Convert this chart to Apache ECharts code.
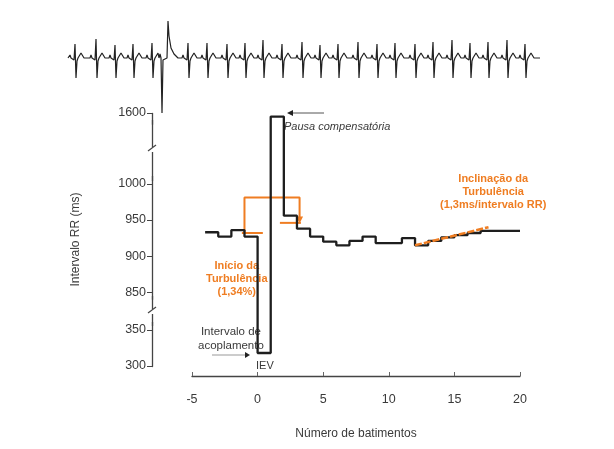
<!DOCTYPE html>
<html><head><meta charset="utf-8">
<script src="https://cdn.jsdelivr.net/npm/echarts@6/dist/echarts.min.js"></script>
<style>html,body{margin:0;padding:0;background:#fff}#c{width:614px;height:449px}</style>
</head><body><div id="c"></div>
<script>
// ---- data ----
const beats = [-4,-3,-2,-1,0,1,2,3,4,5,6,7,8,9,10,11,12,13,14,15,16,17,18,19,20];
const rrIntervals = [933,927,936,927,318,1595,956,938,927,920,915,921,927,918,918,925,915,921,926,929,932,935,935,935,935];
const yTickValues = [300,350,850,900,950,1000,1600];
const xTickValues = [-5,0,5,10,15,20];
const onsetBracketX = [-1, -1, 3.2, 3.2];
const onsetBracketY = [932, 981, 981, 950];
const preMeanX = [-1.2, 0.4];  const preMeanY = [932, 932];
const postMeanX = [1.7, 3.3];  const postMeanY = [946, 946];
const slopeX = [12, 17.6];     const slopeY = [915, 940];
// ECG strip (R-peak positions along the strip and R heights)
const ecgBeatPos = [7,28,47,65,84,120,139,159,177,195,214,234,252,270,290,309,327,347,365,384,402,420,439,457];
const ecgBeatAmp = [14,19,13,14,15,15,15,14,15,18,14,16,13,14,16,14,15,14,16,18,15,16,18,14];
const ecgPvcPos = 94;
const ecgNormalShape = [[-6,0],[-5,3],[-4,0],[-2,0],[-1,-2],[0,1],[1,-20],[2,-3],[3,0],[5,1],[6,5],[8,4],[9,0]];
const ecgPvcShape = [[-3,0],[-1,0],[0,-55],[1,-2],[5,0],[6,37],[7,22],[9,10],[12,4],[16,0]];
const ecgLength = 472;

// ---- build series data ----
const rrData = beats.map((b,i)=>[b, rrIntervals[i]]);
const zip = (xs,ys)=>xs.map((x,i)=>[x,ys[i]]);
const bracketData = zip(onsetBracketX, onsetBracketY).map((p,i,a)=> i===a.length-1 ? {value:p, symbol:'triangle', symbolSize:[7,7], symbolRotate:180} : {value:p, symbol:'none'});

let ecg = [[0,0]];
ecgBeatPos.forEach((p,i)=>{
  ecgNormalShape.forEach(([dx,dy])=>{
    ecg.push([p+dx, dx===0 ? ecgBeatAmp[i] : dy]);
  });
});
ecgPvcShape.forEach(([dx,dy])=>ecg.push([ecgPvcPos+dx, dy]));
ecg.push([ecgLength,0]);
ecg.sort((a,b)=>a[0]-b[0]);

const ORANGE = '#ef7d22';
const TXT = '#3a3a3a';
const FONT = 'Liberation Sans, Arial, sans-serif';

const chart = echarts.init(document.getElementById('c'), null, {renderer:'canvas'});
chart.setOption({
  animation:false,
  backgroundColor:'#fff',
  textStyle:{fontFamily:FONT},
  grid:[
    {left:192, right:94, top:113, bottom:83, containLabel:false},
    {left:68, right:74, top:15, height:100}
  ],
  xAxis:[{
    type:'value', gridIndex:0, min:-5, max:20, interval:5, offset:10,
    axisLine:{show:true, onZero:false, lineStyle:{color:'#444', width:1.3}},
    axisTick:{show:true, inside:true, length:4, lineStyle:{color:'#666'}},
    axisLabel:{color:TXT, fontSize:12.5, margin:17, fontFamily:FONT},
    splitLine:{show:false},
    name:'Número de batimentos', nameLocation:'middle', nameGap:52,
    nameTextStyle:{color:TXT, fontSize:12, fontFamily:FONT}
  },{
    type:'value', gridIndex:1, min:0, max:ecgLength, show:false
  }],
  yAxis:[{
    type:'value', gridIndex:0, min:300, max:1600, offset:40,
    breaks:[{start:360, end:840, gap:32},{start:1010, end:1585, gap:73}],
    breakArea:{show:true, expandOnClick:false, itemStyle:{color:'rgba(0,0,0,0)', borderColor:'rgba(0,0,0,0)', borderWidth:0}},
    axisLine:{show:true, onZero:false, breakLine:true, lineStyle:{color:'#444', width:1.3}},
    axisTick:{show:true, customValues:yTickValues, length:5, lineStyle:{color:'#444'}},
    axisLabel:{customValues:yTickValues, formatter:v=>String(v), color:TXT, fontSize:12.5, margin:6, fontFamily:FONT},
    splitLine:{show:false},
    name:'Intervalo RR (ms)', nameLocation:'middle', nameGap:70, nameRotate:90,
    nameTextStyle:{color:TXT, fontSize:12, fontFamily:FONT}
  },{
    type:'value', gridIndex:1, min:-57, max:43, show:false
  }],
  series:[
    {type:'line', name:'bracket', xAxisIndex:0, yAxisIndex:0, data:bracketData, symbol:'none',
     lineStyle:{color:ORANGE, width:2}, itemStyle:{color:ORANGE}, z:2, clip:false},
    {type:'line', name:'preMean', data:zip(preMeanX,preMeanY), symbol:'none', lineStyle:{color:ORANGE, width:2}, z:2},
    {type:'line', name:'postMean', data:zip(postMeanX,postMeanY), symbol:'none', lineStyle:{color:ORANGE, width:2}, z:2},
    {type:'line', name:'RR', data:rrData, step:'end', symbol:'none',
     lineStyle:{color:'#1e1e1e', width:2.3}, z:3, clip:false},
    {type:'line', name:'slope', data:zip(slopeX,slopeY), symbol:'none',
     lineStyle:{color:ORANGE, width:2.5, type:[7,2]}, z:4},
    {type:'line', name:'ecg', xAxisIndex:1, yAxisIndex:1, data:ecg, symbol:'none',
     lineStyle:{color:'#222', width:1.2}, z:3, clip:false}
  ],
  graphic:[
    // axis line continued across the breaks, with break marks
    {type:'line', shape:{x1:152.5,y1:120,x2:152.5,y2:181}, style:{stroke:'#444', lineWidth:1.3}, z:49},
    {type:'line', shape:{x1:152.5,y1:296,x2:152.5,y2:326}, style:{stroke:'#444', lineWidth:1.3}, z:49},
    {type:'rect', shape:{x:149,y:147,width:7,height:5}, style:{fill:'#fff'}, z:50},
    {type:'line', shape:{x1:148,y1:151,x2:156,y2:145}, style:{stroke:'#444', lineWidth:1.2}, z:51},
    {type:'rect', shape:{x:149,y:309,width:7,height:5}, style:{fill:'#fff'}, z:50},
    {type:'line', shape:{x1:148,y1:313,x2:156,y2:307}, style:{stroke:'#444', lineWidth:1.2}, z:51},
    // pause arrow
    {type:'line', shape:{x1:292,y1:113,x2:324,y2:113}, style:{stroke:'#555', lineWidth:1}},
    {type:'polygon', shape:{points:[[287,113],[293,110],[293,116]]}, style:{fill:'#222'}},
    {type:'text', left:284, top:121, style:{text:'Pausa compensatória', font:'italic 11px '+FONT, fill:TXT}},
    {type:'text', left:440, top:172, style:{text:'Inclinação da\nTurbulência\n(1,3ms/intervalo RR)', font:'bold 11px '+FONT, fill:ORANGE, textAlign:'center', lineHeight:13}},
    {type:'text', left:206, top:259, style:{text:'Início da\nTurbulência\n(1,34%)', font:'bold 11px '+FONT, fill:ORANGE, textAlign:'center', lineHeight:13}},
    {type:'text', left:198, top:325, style:{text:'Intervalo de\nacoplamento', font:'11.5px '+FONT, fill:TXT, textAlign:'center', lineHeight:14}},
    {type:'line', shape:{x1:212,y1:355,x2:246,y2:355}, style:{stroke:'#999', lineWidth:1}},
    {type:'polygon', shape:{points:[[250,355],[245,352],[245,358]]}, style:{fill:'#222'}},
    {type:'text', left:256, top:360, style:{text:'IEV', font:'11px '+FONT, fill:TXT}}
  ]
});
</script></body></html>
